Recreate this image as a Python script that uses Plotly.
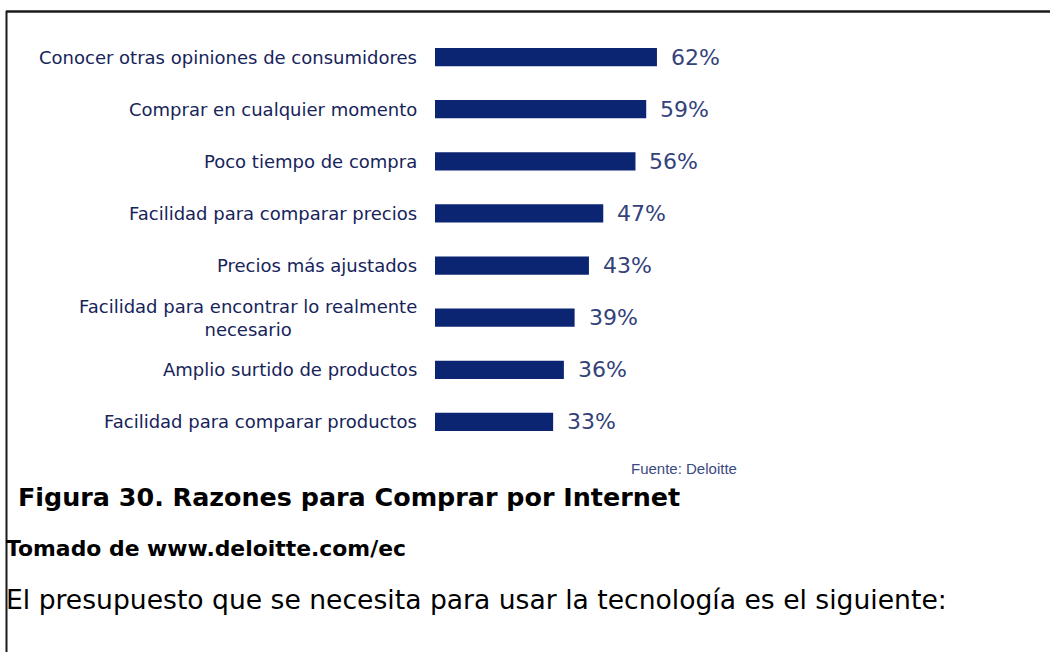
import plotly.graph_objects as go

# Survey data: reasons for buying online (share of respondents, %)
categories = [
    "Conocer otras opiniones de consumidores",
    "Comprar en cualquier momento",
    "Poco tiempo de compra",
    "Facilidad para comparar precios",
    "Precios más ajustados",
    "Facilidad para encontrar lo realmente<br>necesario",
    "Amplio surtido de productos",
    "Facilidad para comparar productos",
]
values = [62, 59, 56, 47, 43, 39, 36, 33]

source_note = "Fuente: Deloitte"
caption_title = "Figura 30. Razones para Comprar por Internet"
caption_source = "Tomado de www.deloitte.com/ec"
body_text = "El presupuesto que se necesita para usar la tecnología es el siguiente:"

W, H = 1050, 652
BAR_COLOR = "#0c2572"
LABEL_COLOR = "#16245a"
VALUE_COLOR = "#34427a"
CHART_FONT = "DejaVu Sans"
DOC_FONT = "Liberation Sans"
PX_PER_UNIT = 3.58  # horizontal pixels per percentage point
X0_PX, X1_PX = 435, 900  # plot area left/right edges in pixels


def fx(px):
    return px / W


def fy(py):
    return 1 - py / H


fig = go.Figure(
    go.Bar(
        x=values,
        y=categories,
        orientation="h",
        marker=dict(color=BAR_COLOR, line=dict(width=0)),
        hoverinfo="skip",
    )
)

annotations = []
# category labels, right-aligned just left of the bars
for cat in categories:
    annotations.append(dict(
        x=fx(419), xref="paper", xanchor="right",
        y=cat, yref="y", yanchor="middle",
        text=cat, showarrow=False, align="center",
        font=dict(family=CHART_FONT, size=18, color=LABEL_COLOR),
    ))
# value labels at the end of each bar
for cat, v in zip(categories, values):
    annotations.append(dict(
        x=v, xref="x", xanchor="left", xshift=12,
        y=cat, yref="y", yanchor="middle",
        text=f"{v}%", showarrow=False,
        font=dict(family=CHART_FONT, size=22, color=VALUE_COLOR),
    ))

annotations += [
    dict(x=fx(629), y=fy(469), xref="paper", yref="paper",
         xanchor="left", yanchor="middle", showarrow=False,
         text=source_note,
         font=dict(family=DOC_FONT, size=15, color="#3a4a80")),
    dict(x=fx(16), y=fy(497), xref="paper", yref="paper",
         xanchor="left", yanchor="middle", showarrow=False,
         text=f"<b>{caption_title}</b>",
         font=dict(family=CHART_FONT, size=25.4, color="#000000")),
    dict(x=fx(4), y=fy(548), xref="paper", yref="paper",
         xanchor="left", yanchor="middle", showarrow=False,
         text=f"<b>{caption_source}</b>",
         font=dict(family=CHART_FONT, size=21.9, color="#000000")),
    dict(x=fx(4), y=fy(599), xref="paper", yref="paper",
         xanchor="left", yanchor="middle", showarrow=False,
         text=body_text,
         font=dict(family=CHART_FONT, size=26.6, color="#000000")),
]

shapes = [
    # frame around the figure (top and left edges visible)
    dict(type="line", xref="paper", yref="paper",
         x0=fx(6), x1=1, y0=fy(11.5), y1=fy(11.5),
         line=dict(color="#1a1a1a", width=2.5)),
    dict(type="line", xref="paper", yref="paper",
         x0=fx(6.5), x1=fx(6.5), y0=fy(11), y1=0,
         line=dict(color="#1a1a1a", width=2)),
]

fig.update_layout(
    width=W, height=H,
    margin=dict(l=0, r=0, t=0, b=0),
    paper_bgcolor="white", plot_bgcolor="white",
    showlegend=False,
    bargap=0.65,
    xaxis=dict(domain=[fx(X0_PX), fx(X1_PX)],
               range=[0, (X1_PX - X0_PX) / PX_PER_UNIT],
               visible=False, fixedrange=True),
    yaxis=dict(domain=[fy(448), fy(31)], autorange="reversed",
               visible=False, fixedrange=True),
    annotations=annotations,
    shapes=shapes,
)

# keep the page from scrolling: the figure fills the window exactly
page_css = (
    "document.documentElement.style.overflow='hidden';"
    "document.body.style.overflow='hidden';"
    "document.body.style.margin='0';"
)

fig.write_html("out.html", config={"displayModeBar": False},
               post_script=page_css)
